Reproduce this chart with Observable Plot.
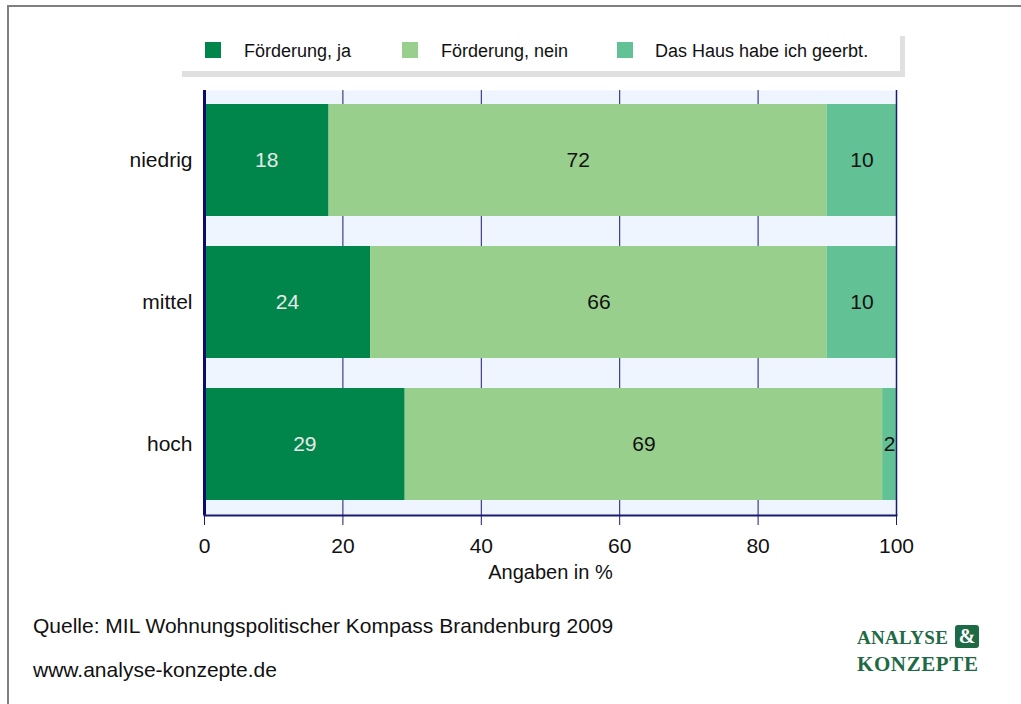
<!DOCTYPE html>
<html>
<head>
<meta charset="utf-8">
<script src="https://cdn.jsdelivr.net/npm/d3@7"></script>
<script src="https://cdn.jsdelivr.net/npm/@observablehq/plot@0.6"></script>
<style>
  html, body { margin: 0; padding: 0; background: #fff; }
  #wrap { position: relative; width: 1021px; height: 704px; overflow: hidden; font-family: "Liberation Sans", Arial, sans-serif; color: #111; }
  #border { position: absolute; left: 7px; top: 5px; width: 1100px; height: 800px; border-left: 2px solid #808080; border-top: 2px solid #808080; }
  #legendShadow { position: absolute; left: 182px; top: 36px; width: 723px; height: 41px; background: #e0e0e0; }
  #legend { position: absolute; left: 177px; top: 30px; width: 723px; height: 41px; background: #fff; }
  .sw { position: absolute; top: 12px; width: 16px; height: 16px; }
  .lt { position: absolute; top: 11px; font-size: 18px; line-height: 20px; white-space: nowrap; color: #111; }
  #chart { position: absolute; left: 0; top: 0; }
  .foot { position: absolute; left: 33px; font-size: 21px; white-space: nowrap; color: #111; }
  #logo { position: absolute; left: 857px; top: 624px; font-family: "Liberation Serif", "Times New Roman", serif; font-weight: bold; color: #1e6a45; font-size: 21px; line-height: 27px; letter-spacing: 0.6px; }
  #an { font-size: 19px; letter-spacing: 0.3px; }
  #amp { display: inline-block; background: #1e6a45; color: #fff; border-radius: 3px; width: 24px; height: 23px; line-height: 23px; text-align: center; font-size: 20px; vertical-align: 1px; margin-left: 7px; letter-spacing: 0; }
</style>
</head>
<body>
<div id="wrap">
  <div id="border"></div>
  <div id="legendShadow"></div>
  <div id="legend"></div>
  <div id="chart"></div>
  <div class="foot" id="src" style="top:614px;"></div>
  <div class="foot" id="url" style="top:658px;"></div>
  <div id="logo"><span id="an">ANALYSE</span><span id="amp">&amp;</span><br>KONZEPTE</div>
</div>
<script>
// ---- data ----
const categories = ["niedrig", "mittel", "hoch"];
const seriesNames = ["Förderung, ja", "Förderung, nein", "Das Haus habe ich geerbt."];
const foerderungJa = [18, 24, 29];
const foerderungNein = [72, 66, 69];
const hausGeerbt = [10, 10, 2];
const xTicks = [0, 20, 40, 60, 80, 100];
const colors = ["#00864a", "#99cf8c", "#63c196"];
const xLabel = "Angaben in %";
const sourceText = "Quelle: MIL Wohnungspolitischer Kompass Brandenburg 2009";
const urlText = "www.analyse-konzepte.de";

const seriesValues = [foerderungJa, foerderungNein, hausGeerbt];
const rows = [];
categories.forEach((c, i) => {
  seriesNames.forEach((s, j) => rows.push({cat: c, series: s, value: seriesValues[j][i]}));
});

const navy = "#1a1a72";

const plot = Plot.plot({
  width: 1021,
  height: 600,
  marginTop: 90,
  marginBottom: 85,
  marginLeft: 204,
  marginRight: 125,
  style: {fontFamily: "'Liberation Sans', Arial, sans-serif", background: "transparent"},
  x: {domain: [0, 100]},
  y: {domain: categories, paddingInner: 0.211, paddingOuter: 0.1},
  color: {domain: seriesNames, range: colors},
  marks: [
    Plot.frame({fill: "#eef5fe", stroke: null}),
    Plot.ruleX(xTicks, {stroke: navy, strokeWidth: 1}),
    Plot.barX(rows, Plot.stackX({x: "value", y: "cat", fill: "series", order: seriesNames})),
    Plot.text(rows, Plot.stackX({x: "value", y: "cat", z: "series", order: seriesNames,
      text: d => d.series === seriesNames[0] ? String(d.value) : "", fill: "#e8e8e8", fontSize: 21})),
    Plot.text(rows, Plot.stackX({x: "value", y: "cat", z: "series", order: seriesNames,
      text: d => d.series !== seriesNames[0] ? String(d.value) : "", fill: "#111", fontSize: 21})),
    Plot.ruleX([100], {stroke: navy, strokeWidth: 1.5}),
    Plot.ruleX([0], {stroke: "#0c0c6e", strokeWidth: 3}),
    Plot.frame({anchor: "bottom", stroke: navy, strokeWidth: 2}),
    Plot.axisX({ticks: xTicks, tickSize: 10, tickPadding: 13, stroke: navy, fontSize: 21, fill: "#111", label: null, tickFormat: d => String(d)}),
    Plot.axisY({tickSize: 0, tickPadding: 12, fontSize: 21, fill: "#111", label: null}),
    Plot.text([xLabel], {frameAnchor: "bottom", dy: 63, fontSize: 20, fill: "#111"})
  ]
});
document.getElementById("chart").appendChild(plot);

// legend
const legend = document.getElementById("legend");
const swX = [28, 225, 440];
const txX = [67, 264, 478];
seriesNames.forEach((s, i) => {
  const sw = document.createElement("div");
  sw.className = "sw"; sw.style.left = swX[i] + "px"; sw.style.background = colors[i];
  legend.appendChild(sw);
  const t = document.createElement("div");
  t.className = "lt"; t.style.left = txX[i] + "px"; t.textContent = s;
  legend.appendChild(t);
});
document.getElementById("src").textContent = sourceText;
document.getElementById("url").textContent = urlText;
</script>
</body>
</html>
